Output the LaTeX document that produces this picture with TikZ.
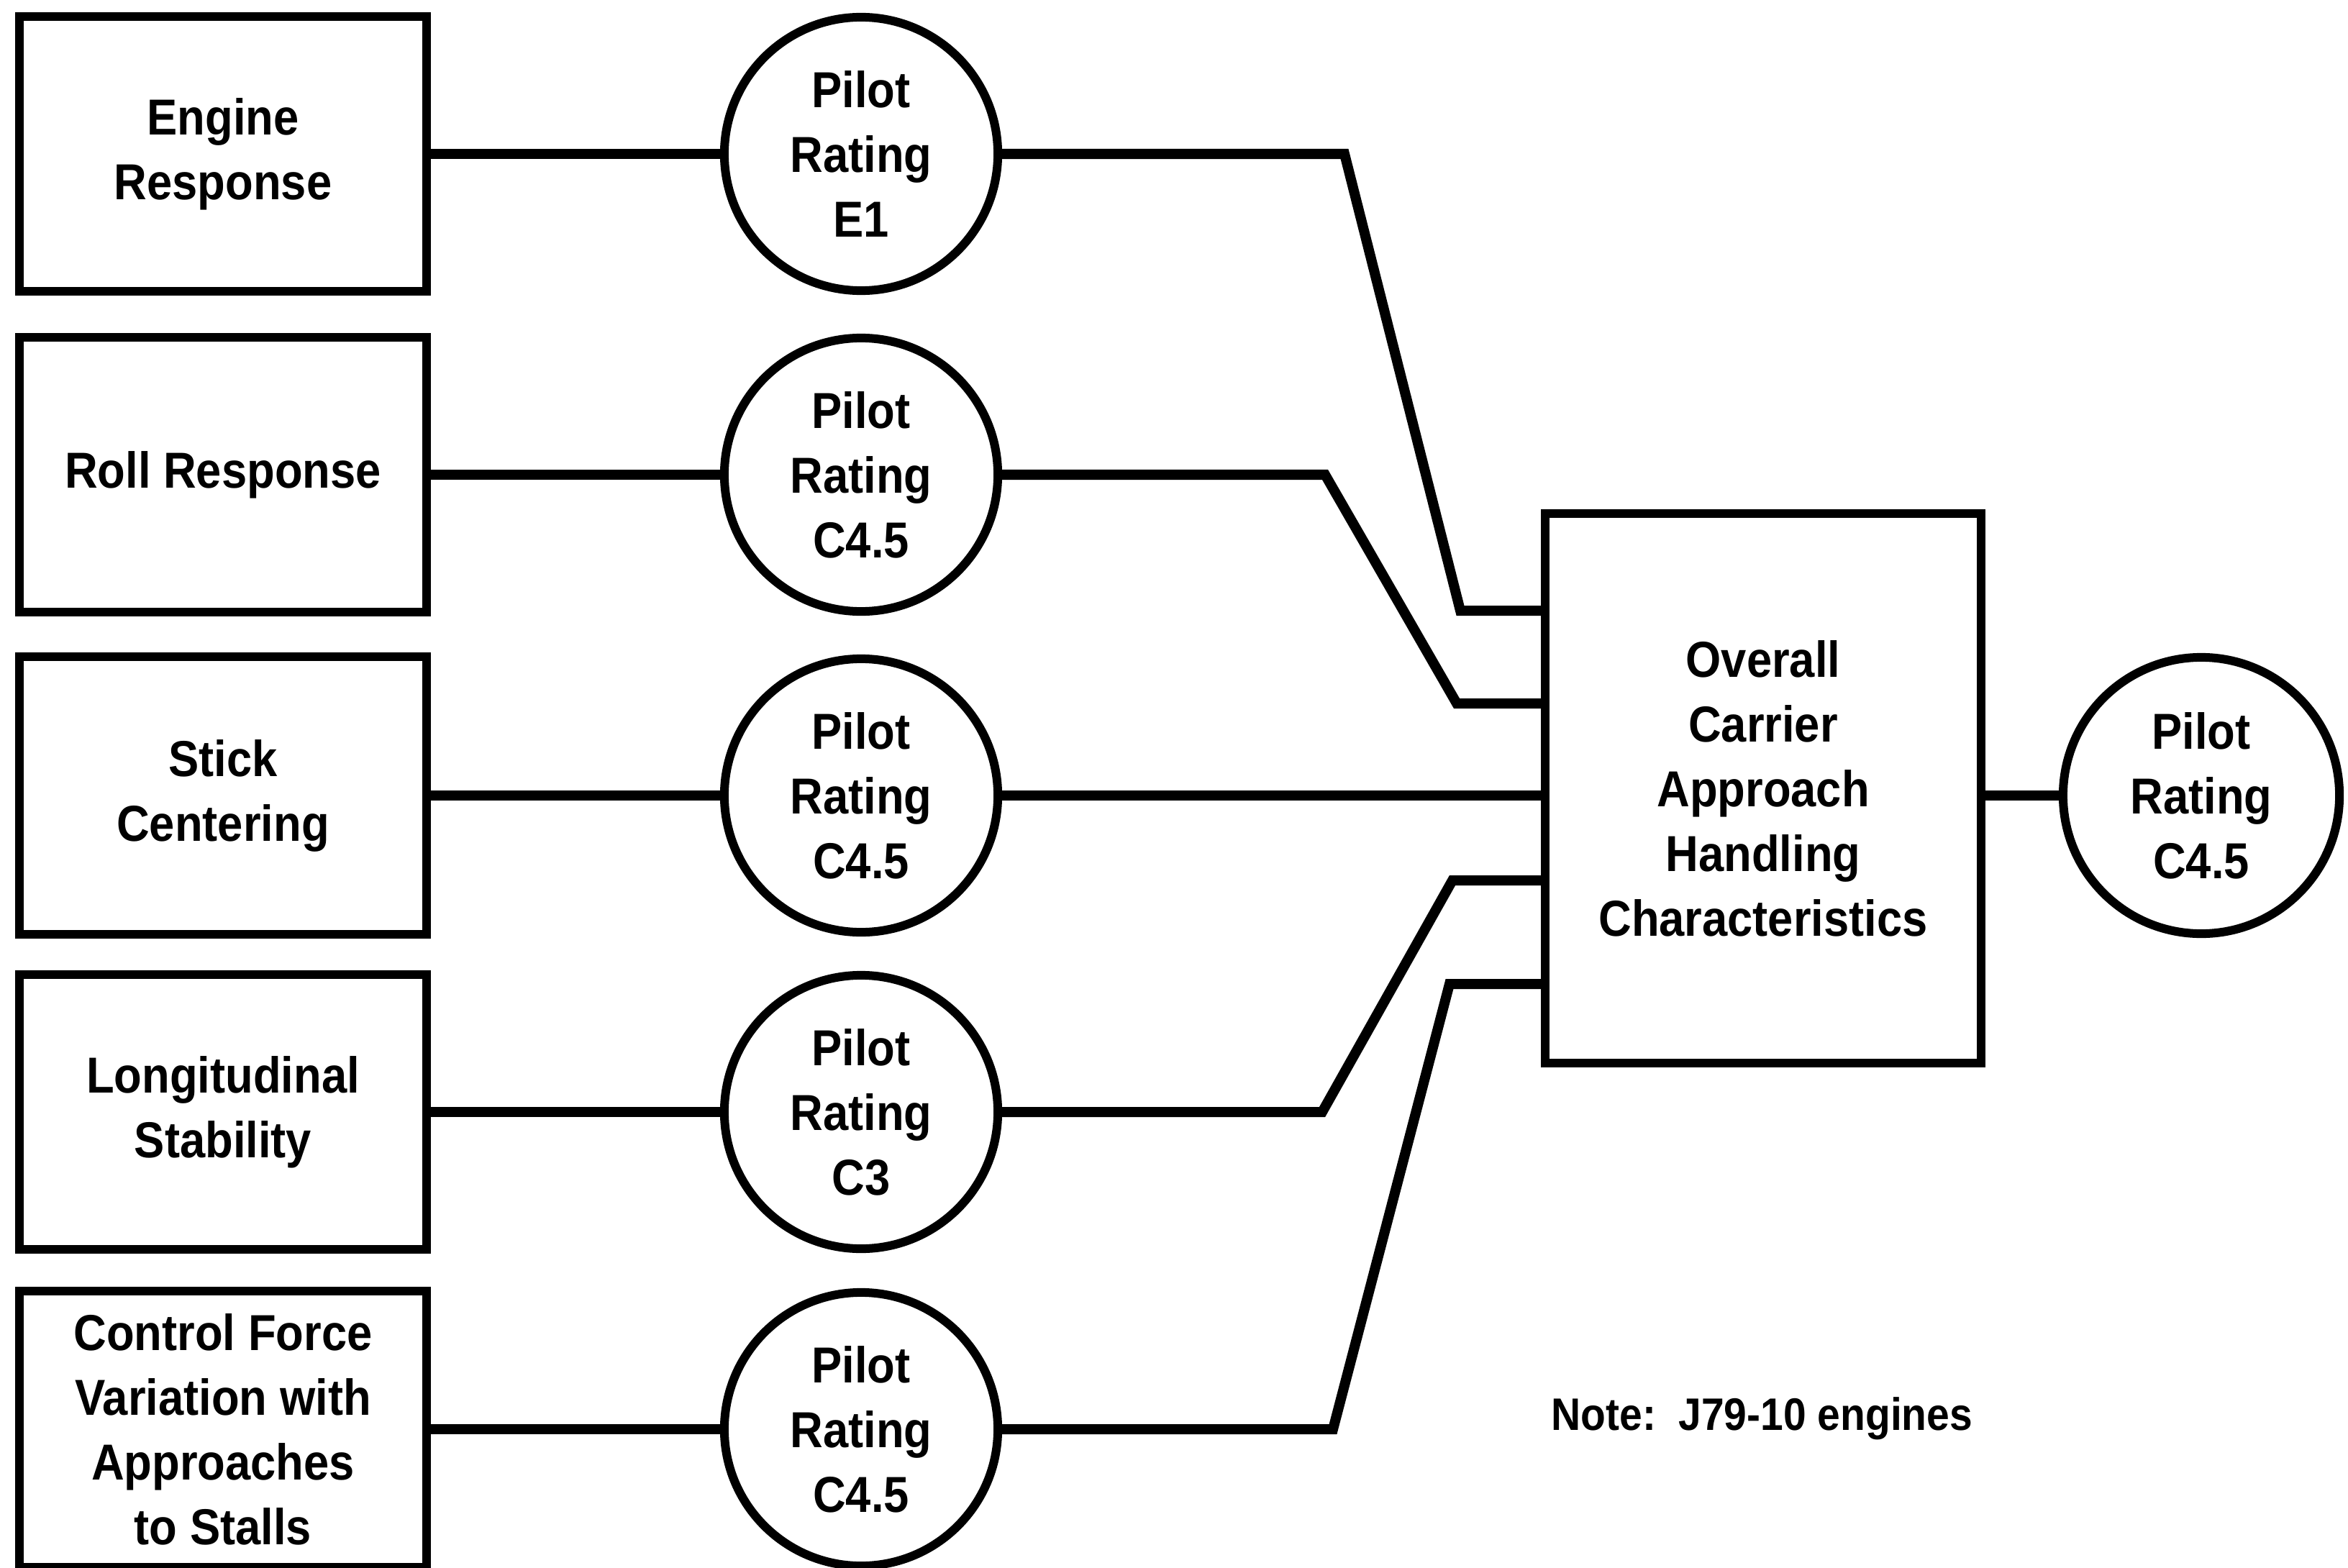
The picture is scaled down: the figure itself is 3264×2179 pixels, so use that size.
\documentclass[tikz,border=0pt]{standalone}
\usepackage{fontspec}
\setmainfont{Liberation Sans}[FakeStretch=0.9]
\begin{document}
\begin{tikzpicture}[x=0.01cm,y=-0.01cm,
  every node/.style={font=\fontsize{20}{25.6}\selectfont\bfseries, align=center},
  factor/.style={draw, line width=0.12cm, minimum width=5.66cm, minimum height=3.81cm, inner sep=0pt},
  rating/.style={draw, circle, line width=0.12cm, minimum size=3.8cm, inner sep=0pt},
  link/.style={line width=0.14cm}]
\useasboundingbox (0,0) rectangle (3264,2179);
% factor boxes
\node[factor] (b1) at (310,214) {Engine\\Response};
\node[factor] (b2) at (310,660) {Roll Response};
\node[factor, minimum height=3.85cm] (b3) at (310,1106) {Stick\\Centering};
\node[factor] (b4) at (310,1546) {Longitudinal\\Stability};
\node[factor, minimum height=3.84cm] (b5) at (310,1987) {Control Force\\Variation with\\Approaches\\to Stalls};
% rating circles
\node[rating] (c1) at (1197,214) {Pilot\\Rating\\E1};
\node[rating] (c2) at (1197,660) {Pilot\\Rating\\C4.5};
\node[rating] (c3) at (1197,1106) {Pilot\\Rating\\C4.5};
\node[rating] (c4) at (1197,1546) {Pilot\\Rating\\C3};
\node[rating] (c5) at (1197,1987) {Pilot\\Rating\\C4.5};
% overall
\node[draw, line width=0.12cm, minimum width=6.06cm, minimum height=7.64cm, inner sep=0pt] (ov) at (2451,1096) {Overall\\Carrier\\Approach\\Handling\\Characteristics};
\node[rating, minimum size=3.84cm] (out) at (3060,1106) {Pilot\\Rating\\C4.5};
\node[font=\fontsize{18}{22}\selectfont\bfseries, anchor=west] (note) at (2144,1972) {Note:\ \ J79-10 engines};
% bend points
\coordinate (k1a) at (1869,214); \coordinate (k1b) at (2030,849);
\coordinate (k2a) at (1842,660); \coordinate (k2b) at (2025,978);
\coordinate (k4a) at (1838,1546); \coordinate (k4b) at (2019,1224);
\coordinate (k5a) at (1853,1987); \coordinate (k5b) at (2015,1368);
% connectors
\foreach \i in {1,...,5} \draw[link] (b\i.east) -- (c\i.west);
\draw[link] (c1.east) -- (k1a) -- (k1b) -- (k1b -| ov.west);
\draw[link] (c2.east) -- (k2a) -- (k2b) -- (k2b -| ov.west);
\draw[link] (c3.east) -- (c3.east -| ov.west);
\draw[link] (c4.east) -- (k4a) -- (k4b) -- (k4b -| ov.west);
\draw[link] (c5.east) -- (k5a) -- (k5b) -- (k5b -| ov.west);
\draw[link] (out.west -| ov.east) -- (out.west);
\end{tikzpicture}
\end{document}
